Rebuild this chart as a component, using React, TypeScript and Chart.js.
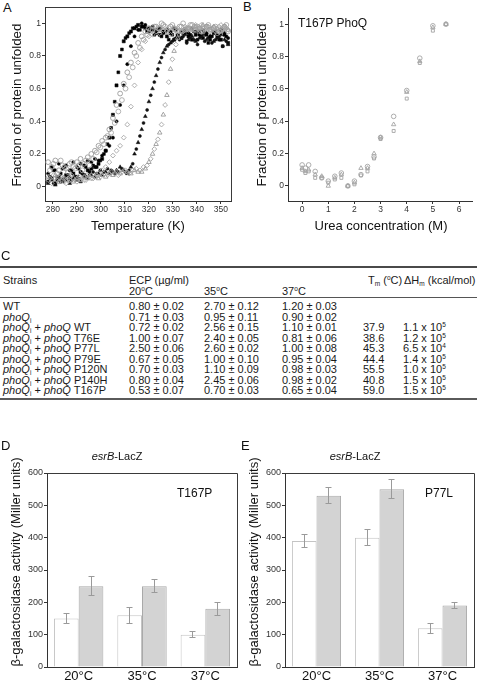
import React, { useEffect, useRef } from "react";
import { Chart, registerables } from "chart.js";
Chart.register(...registerables);

const FONT = "'Liberation Sans', Arial, Helvetica, sans-serif";
Chart.defaults.font.family = FONT;

// ---------- Panel A: thermal unfolding ----------
const tempA = [278, 279.5, 281, 282.5, 284, 285.5, 287, 288.5, 290, 291.5, 293, 294.5, 296, 297.5, 299, 300.5, 302, 303.5, 305, 306.5, 308, 309.5, 311, 312.5, 314, 315.5, 317, 318.5, 320, 321.5, 323, 324.5, 326, 327.5, 329, 330.5, 332, 333.5, 335, 336.5, 338, 339.5, 341, 342.5, 344, 345.5, 347, 348.5, 350, 351.5, 353];
const tempA2 = [278.75, 280.25, 281.75, 283.25, 284.75, 286.25, 287.75, 289.25, 290.75, 292.25, 293.75, 295.25, 296.75, 298.25, 299.75, 301.25, 302.75, 304.25, 305.75, 307.25, 308.75, 310.25, 311.75, 313.25, 314.75, 316.25, 317.75, 319.25, 320.75, 322.25, 323.75, 325.25, 326.75, 328.25, 329.75, 331.25, 332.75, 334.25, 335.75, 337.25, 338.75, 340.25, 341.75, 343.25, 344.75, 346.25, 347.75, 349.25, 350.75, 352.25];
const blackSquaresA = [0.03, 0.05, 0.02, 0.06, 0.04, 0.07, 0.05, 0.08, 0.06, 0.09, 0.07, 0.1, 0.11, 0.12, 0.14, 0.17, 0.22, 0.3, 0.44, 0.62, 0.8, 0.89, 0.92, 0.95, 0.97, 0.99, 0.98, 0.97, 0.95, 0.96, 0.94, 0.93, 0.95, 0.92, 0.94, 0.9, 0.93, 0.91, 0.94, 0.92, 0.9, 0.93, 0.95, 0.91, 0.93, 0.9, 0.94, 0.92, 0.9, 0.93, 0.88];
const blackSquaresA2 = [0.06, 0.1, 0.04, 0.08, 0.12, 0.07, 0.1, 0.06, 0.11, 0.08, 0.12, 0.09, 0.13, 0.12, 0.16, 0.2, 0.26, 0.36, 0.52, 0.7, 0.84, 0.91, 0.94, 0.97, 0.98, 0.96, 0.98, 0.95, 0.97, 0.93, 0.96, 0.92, 0.95, 0.9, 0.93, 0.96, 0.91, 0.94, 0.89, 0.93, 0.95, 0.9, 0.92, 0.94, 0.88, 0.92, 0.95, 0.9, 0.86, 0.92];
const blackDotsA = [0.08, 0.12, 0.1, 0.14, 0.11, 0.13, 0.1, 0.15, 0.12, 0.14, 0.13, 0.16, 0.15, 0.17, 0.16, 0.19, 0.22, 0.25, 0.3, 0.4, 0.5, 0.62, 0.75, 0.86, 0.92, 0.96, 1.0, 0.99, 0.97, 0.98, 0.96, 0.97, 0.94, 0.96, 0.95, 0.97, 0.93, 0.95, 0.96, 0.94, 0.97, 0.95, 0.93, 0.96, 0.94, 0.92, 0.95, 0.93, 0.96, 0.94, 0.91];
const grayCirclesA = [0.15, 0.12, 0.16, 0.1, 0.13, 0.11, 0.14, 0.12, 0.15, 0.17, 0.14, 0.18, 0.2, 0.22, 0.25, 0.28, 0.3, 0.35, 0.42, 0.5, 0.57, 0.63, 0.7, 0.76, 0.82, 0.88, 0.92, 0.95, 0.97, 0.96, 0.98, 0.97, 0.99, 0.96, 0.98, 0.97, 0.95, 0.98, 0.96, 0.97, 0.99, 0.96, 0.97, 0.95, 0.98, 0.96, 0.97, 0.94, 0.96, 0.98, 0.95];
const grayCirclesA2 = [0.1, 0.14, 0.08, 0.16, 0.12, 0.09, 0.15, 0.11, 0.13, 0.1, 0.16, 0.13, 0.17, 0.21, 0.24, 0.26, 0.31, 0.33, 0.39, 0.46, 0.53, 0.6, 0.67, 0.73, 0.8, 0.85, 0.9, 0.93, 0.96, 0.98, 0.97, 1.0, 0.98, 0.97, 0.99, 0.96, 0.98, 1.0, 0.97, 0.99, 0.96, 0.98, 0.95, 0.97, 0.99, 0.96, 0.98, 0.95, 0.97, 0.99];
const grayDiamondsA = [0.04, 0.02, 0.05, 0.03, 0.06, 0.02, 0.04, 0.05, 0.03, 0.06, 0.04, 0.07, 0.05, 0.06, 0.08, 0.1, 0.12, 0.15, 0.19, 0.22, 0.25, 0.3, 0.38, 0.49, 0.62, 0.76, 0.84, 0.89, 0.92, 0.93, 0.95, 0.94, 0.96, 0.95, 0.93, 0.96, 0.97, 0.95, 0.98, 0.96, 0.97, 0.99, 0.96, 0.98, 0.97, 0.95, 0.98, 0.96, 0.99, 0.97, 0.96];
const blackTrianglesA = [0.02, 0.04, 0.01, 0.05, 0.03, 0.04, 0.02, 0.05, 0.04, 0.03, 0.06, 0.05, 0.07, 0.06, 0.08, 0.07, 0.09, 0.08, 0.09, 0.1, 0.12, 0.1, 0.08, 0.12, 0.2, 0.27, 0.35, 0.43, 0.52, 0.6, 0.68, 0.76, 0.82, 0.86, 0.88, 0.9, 0.92, 0.91, 0.93, 0.9, 0.92, 0.89, 0.91, 0.93, 0.9, 0.92, 0.89, 0.91, 0.93, 0.9, 0.87];
const blackTrianglesA2 = [0.04, 0.02, 0.06, 0.03, 0.05, 0.07, 0.04, 0.06, 0.05, 0.08, 0.06, 0.07, 0.09, 0.08, 0.1, 0.09, 0.11, 0.1, 0.08, 0.09, 0.11, 0.09, 0.1, 0.14, 0.23, 0.31, 0.39, 0.47, 0.56, 0.64, 0.72, 0.79, 0.84, 0.87, 0.89, 0.91, 0.9, 0.92, 0.88, 0.91, 0.9, 0.87, 0.92, 0.89, 0.91, 0.88, 0.9, 0.92, 0.86, 0.89];
const grayTrianglesA = [0.06, 0.04, 0.07, 0.03, 0.05, 0.04, 0.06, 0.03, 0.05, 0.04, 0.06, 0.05, 0.07, 0.06, 0.05, 0.07, 0.06, 0.08, 0.07, 0.09, 0.08, 0.1, 0.09, 0.08, 0.1, 0.09, 0.09, 0.11, 0.15, 0.2, 0.26, 0.33, 0.44, 0.56, 0.72, 0.83, 0.91, 0.95, 0.96, 0.97, 0.96, 0.98, 0.97, 0.99, 0.98, 0.96, 0.98, 0.97, 0.95, 0.98, 0.96];
const grayTrianglesA2 = [0.05, 0.07, 0.04, 0.06, 0.03, 0.05, 0.07, 0.04, 0.06, 0.05, 0.04, 0.06, 0.05, 0.07, 0.06, 0.08, 0.07, 0.09, 0.08, 0.07, 0.09, 0.1, 0.08, 0.1, 0.11, 0.1, 0.12, 0.13, 0.17, 0.23, 0.29, 0.38, 0.5, 0.64, 0.78, 0.87, 0.93, 0.95, 0.97, 0.96, 0.98, 0.97, 0.99, 0.96, 0.98, 0.97, 0.95, 0.98, 0.96, 0.97];
const tempTicksA = [280, 290, 300, 310, 320, 330, 340, 350];
const fracTicks = [0, 0.2, 0.4, 0.6, 0.8, 1];

// ---------- Panel B: urea denaturation ----------
const ureaB = [0, 0.125, 0.25, 0.5, 0.75, 1, 1.25, 1.5, 1.75, 2, 2.25, 2.5, 2.75, 3, 3.5, 4, 4.5, 5, 5.5];
const circlesB = [0.13, 0.11, 0.13, 0.09, 0.05, 0.03, 0.06, 0.08, 0.0, 0.03, 0.07, 0.12, 0.18, 0.3, 0.43, 0.59, 0.79, 0.99, 1.0];
const trianglesB = [0.11, 0.09, 0.1, 0.07, 0.06, 0.0, 0.05, 0.07, 0.0, 0.02, 0.11, 0.11, 0.2, 0.3, 0.38, 0.58, 0.77, 0.98, 1.0];
const squaresB = [0.1, 0.08, 0.09, 0.05, 0.05, 0.02, 0.04, 0.05, 0.0, 0.01, 0.065, 0.09, 0.17, 0.29, 0.34, 0.54, 0.76, 0.96, 1.0];
const ureaTicksB = [0, 1, 2, 3, 4, 5, 6];

// ---------- Panel C: table ----------
const strainsC = ["WT", "phoQi", "phoQi + phoQ WT", "phoQi + phoQ T76E", "phoQi + phoQ P77L", "phoQi + phoQ P79E", "phoQi + phoQ P120N", "phoQi + phoQ P140H", "phoQi + phoQ T167P"];
const ecp20C = ["0.80 ± 0.02", "0.71 ± 0.03", "0.72 ± 0.02", "1.00 ± 0.07", "2.50 ± 0.06", "0.67 ± 0.05", "0.70 ± 0.03", "0.80 ± 0.04", "0.53 ± 0.07"];
const ecp35C = ["2.70 ± 0.12", "0.95 ± 0.11", "2.56 ± 0.15", "2.40 ± 0.05", "2.60 ± 0.02", "1.00 ± 0.10", "1.10 ± 0.09", "2.45 ± 0.06", "0.70 ± 0.03"];
const ecp37C = ["1.20 ± 0.03", "0.90 ± 0.02", "1.10 ± 0.01", "0.81 ± 0.06", "1.00 ± 0.08", "0.95 ± 0.04", "0.98 ± 0.03", "0.98 ± 0.02", "0.65 ± 0.04"];
const tmC = ["", "", "37.9", "38.6", "45.3", "44.4", "55.5", "40.8", "59.0"];
const dhMantissaC = ["", "", "1.1", "1.2", "6.5", "1.4", "1.0", "1.5", "1.5"];
const dhExponentC = ["", "", "5", "5", "4", "5", "5", "5", "5"];

// ---------- Panels D/E: esrB-LacZ ----------
const tempCatsDE = ["20°C", "35°C", "37°C"];
const actTicks = [0, 100, 200, 300, 400, 500, 600];
const dWhite = [150, 160, 100];
const dWhiteErr = [15, 25, 10];
const dGray = [250, 250, 180];
const dGrayErr = [30, 20, 20];
const eWhite = [390, 400, 120];
const eWhiteErr = [20, 25, 15];
const eGray = [530, 550, 190];
const eGrayErr = [25, 30, 10];

const align = (p: number) => Math.round(p - 0.5) + 0.5;

const boxPlugin = {
  id: "boxFrame",
  afterDraw(chart: any) {
    const { ctx, chartArea: a } = chart;
    ctx.save();
    ctx.strokeStyle = "#3a3a3a";
    ctx.lineWidth = 1;
    ctx.beginPath();
    ctx.moveTo(align(a.left), align(a.top));
    ctx.lineTo(align(a.right), align(a.top));
    ctx.lineTo(align(a.right), align(a.bottom));
    ctx.stroke();
    ctx.restore();
  },
};

function errorBarPlugin(errs: number[][]) {
  return {
    id: "errBars",
    afterDatasetsDraw(chart: any) {
      const { ctx } = chart;
      const ys = chart.scales.y;
      ctx.save();
      ctx.strokeStyle = "#9a9a9a";
      ctx.lineWidth = 1;
      chart.data.datasets.forEach((ds: any, di: number) => {
        const meta = chart.getDatasetMeta(di);
        meta.data.forEach((bar: any, i: number) => {
          const v = ds.data[i];
          const e = errs[di][i];
          const x = align(bar.x);
          const y1 = align(ys.getPixelForValue(v + e));
          const y2 = align(ys.getPixelForValue(v - e));
          ctx.beginPath();
          ctx.moveTo(x, y1);
          ctx.lineTo(x, y2);
          ctx.moveTo(x - 3, y1);
          ctx.lineTo(x + 3, y1);
          ctx.moveTo(x - 3, y2);
          ctx.lineTo(x + 3, y2);
          ctx.stroke();
        });
      });
      ctx.restore();
    },
  };
}

function axisCommon(color = "#333") {
  return {
    grid: { display: true, drawOnChartArea: false, drawTicks: true, tickLength: 3, color },
    border: { display: true, color, width: 1 },
  };
}

function scatterConfig(opts: any) {
  const { datasets, xMin, xMax, xTicks, yMin, yMax, yTicks, yW, xH, pad, box } = opts;
  return {
    type: "scatter",
    data: { datasets },
    options: {
      responsive: false,
      animation: false,
      events: [],
      layout: { padding: pad },
      plugins: { legend: { display: false }, tooltip: { enabled: false } },
      scales: {
        x: {
          type: "linear",
          min: xMin,
          max: xMax,
          ...axisCommon(),
          afterBuildTicks: (s: any) => { s.ticks = xTicks.map((v: number) => ({ value: v })); },
          afterFit: (s: any) => { s.height = xH; },
          ticks: { color: "#333", font: { size: 8.5 }, padding: 1, maxRotation: 0, autoSkip: false, callback: (v: any) => String(v) },
        },
        y: {
          type: "linear",
          min: yMin,
          max: yMax,
          ...axisCommon(),
          afterBuildTicks: (s: any) => { s.ticks = yTicks.map((v: number) => ({ value: v })); },
          afterFit: (s: any) => { s.width = yW; },
          ticks: { color: "#333", font: { size: 8.5 }, padding: 1, autoSkip: false, callback: (v: any) => String(v) },
        },
      },
    },
    plugins: box ? [boxPlugin] : [],
  };
}

function barConfig(white: number[], gray: number[], wErr: number[], gErr: number[]) {
  return {
    type: "bar",
    data: {
      labels: tempCatsDE,
      datasets: [
        { data: white, backgroundColor: "#ffffff", borderColor: "#c4c4c4", borderWidth: 1, categoryPercentage: 0.78, barPercentage: 1.0 },
        { data: gray, backgroundColor: "#d3d3d3", borderColor: "#a9a9a9", borderWidth: 1, categoryPercentage: 0.78, barPercentage: 1.0 },
      ],
    },
    options: {
      responsive: false,
      animation: false,
      events: [],
      layout: { padding: { top: 33, right: 3, left: 0, bottom: 0 } },
      plugins: { legend: { display: false }, tooltip: { enabled: false } },
      scales: {
        x: {
          grid: { display: false, drawTicks: false },
          border: { display: true, color: "#333", width: 1 },
          afterFit: (s: any) => { s.height = 19; },
          ticks: { color: "#111", font: { size: 13 }, padding: 2, maxRotation: 0 },
        },
        y: {
          min: 0,
          max: 600,
          ...axisCommon(),
          afterBuildTicks: (s: any) => { s.ticks = actTicks.map((v) => ({ value: v })); },
          afterFit: (s: any) => { s.width = 47; },
          ticks: { color: "#333", font: { size: 9 }, padding: 1, autoSkip: false },
        },
      },
    },
    plugins: [boxPlugin, errorBarPlugin([wErr, gErr])],
  };
}

function ChartCanvas({ left, top, width, height, make }: any) {
  const ref = useRef<HTMLCanvasElement>(null);
  useEffect(() => {
    const chart = new Chart(ref.current as HTMLCanvasElement, make());
    return () => chart.destroy();
  }, []);
  return (
    <canvas
      ref={ref}
      width={width}
      height={height}
      style={{ position: "absolute", left, top, width, height }}
    />
  );
}

const openPt = (color: string, style: string, r: number) => ({
  pointStyle: style,
  pointRadius: r,
  backgroundColor: "rgba(255,255,255,0)",
  borderColor: color,
  pointBorderWidth: 0.9,
  showLine: false,
});
const filledPt = (color: string, style: string, r: number) => ({
  pointStyle: style,
  pointRadius: r,
  backgroundColor: color,
  borderColor: color,
  pointBorderWidth: 0.5,
  showLine: false,
});

const xy = (xs: number[], ys: number[]) => xs.map((x, i) => ({ x, y: ys[i] }));

function makeA() {
  return scatterConfig({
    datasets: [
      { data: xy(tempA, grayCirclesA), ...openPt("#9c9c9c", "circle", 2.4) },
      { data: xy(tempA2, grayCirclesA2), ...openPt("#a8a8a8", "circle", 2.4) },
      { data: xy(tempA, grayDiamondsA), ...openPt("#a6a6a6", "rectRot", 2.4) },
      { data: xy(tempA, grayTrianglesA), ...openPt("#9a9a9a", "triangle", 2.6) },
      { data: xy(tempA2, grayTrianglesA2), ...openPt("#a4a4a4", "rectRot", 2.4) },
      { data: xy(tempA, blackDotsA), ...filledPt("#000", "circle", 1.6) },
      { data: xy(tempA, blackTrianglesA), ...filledPt("#111", "triangle", 2.2) },
      { data: xy(tempA2, blackTrianglesA2), ...filledPt("#111", "circle", 1.5) },
      { data: xy(tempA, blackSquaresA), ...filledPt("#000", "rect", 2.2) },
      { data: xy(tempA2, blackSquaresA2), ...filledPt("#000", "rect", 2.0) },
    ],
    xMin: 276.7, xMax: 354.2, xTicks: tempTicksA,
    yMin: -0.088, yMax: 1.1, yTicks: fracTicks,
    yW: 45, xH: 39, pad: { top: 7, right: 9, left: 0, bottom: 0 }, box: true,
  });
}

function makeB() {
  return scatterConfig({
    datasets: [
      { data: xy(ureaB, circlesB), ...openPt("#a4a4a4", "circle", 2.3) },
      { data: xy(ureaB, trianglesB), ...openPt("#a4a4a4", "triangle", 2.5) },
      { data: xy(ureaB, squaresB), ...openPt("#a4a4a4", "rect", 2.1) },
    ],
    xMin: -0.54, xMax: 6.5, xTicks: ureaTicksB,
    yMin: -0.093, yMax: 1.1, yTicks: fracTicks,
    yW: 48, xH: 39, pad: { top: 8, right: 3, left: 0, bottom: 0 }, box: false,
  });
}

const txt = (style: any): any => ({ position: "absolute", whiteSpace: "nowrap", color: "#111", fontFamily: FONT, fontWeight: 400, lineHeight: 1, ...style });

// rotated axis title: an even-sized box centred on integer (cx, cy) so glyphs stay crisp
function VTitle({ cx, cy, size, children }: any) {
  const w = 240, h = 16;
  return (
    <div
      style={txt({
        left: cx - w / 2,
        top: cy - h / 2,
        width: w,
        height: h,
        lineHeight: h + "px",
        textAlign: "center",
        fontSize: size,
        transform: "rotate(-90deg)",
        transformOrigin: "50% 50%",
      })}
    >
      {children}
    </div>
  );
}
function CTitle({ cx, cy, size, children }: any) {
  const w = 200, h = 16;
  return (
    <div style={txt({ left: cx - w / 2, top: cy - h / 2, width: w, height: h, lineHeight: h + "px", textAlign: "center", fontSize: size })}>
      {children}
    </div>
  );
}

const supS = { fontSize: 6.5, verticalAlign: "4px", lineHeight: 0 };
const subS = { fontSize: 6.5, verticalAlign: "-2px", lineHeight: 0 };

function StrainLabel({ s }: { s: string }) {
  if (!s.startsWith("phoQi")) return <span>{s}</span>;
  const rest = s.slice(5);
  const parts = rest.split("phoQ");
  return (
    <span>
      <i>phoQ</i><span style={subS}>i</span>
      {parts.length > 1 ? (
        <>
          {parts[0]}<i>phoQ</i>{parts[1]}
        </>
      ) : rest}
    </span>
  );
}

function TableC() {
  const rowTop = 301;
  const step = 10.5;
  const cell = (left: number, top: number, content: any, key: string) => (
    <div key={key} style={txt({ left, top, fontSize: 11, color: "#1a1a1a" })}>{content}</div>
  );
  return (
    <>
      <div style={{ position: "absolute", left: 0, top: 266, width: 477, height: 2, background: "#4a4a4a" }} />
      {cell(3, 274.5, "Strains", "h1")}
      {cell(129, 274.5, "ECP (µg/ml)", "h2")}
      {cell(129, 285.5, <>20<span style={supS}>o</span>C</>, "h3")}
      {cell(204, 285.5, <>35<span style={supS}>o</span>C</>, "h4")}
      {cell(282, 285.5, <>37<span style={supS}>o</span>C</>, "h5")}
      {cell(368, 274.5, <>T<span style={subS}>m</span> (<span style={supS}>o</span>C)</>, "h6")}
      {cell(404, 274.5, <>ΔH<span style={subS}>m</span> (kcal/mol)</>, "h7")}
      <div style={{ position: "absolute", left: 0, top: 297, width: 477, height: 1, background: "#555" }} />
      {strainsC.map((s, i) => (
        <React.Fragment key={"r" + i}>
          {cell(3, rowTop + i * step, <StrainLabel s={s} />, "s" + i)}
          {cell(129, rowTop + i * step, ecp20C[i], "a" + i)}
          {cell(204, rowTop + i * step, ecp35C[i], "b" + i)}
          {cell(282, rowTop + i * step, ecp37C[i], "c" + i)}
          {cell(363, rowTop + i * step, tmC[i], "d" + i)}
          {cell(403, rowTop + i * step, dhMantissaC[i] ? <>{dhMantissaC[i]} x 10<span style={supS}>{dhExponentC[i]}</span></> : "", "e" + i)}
        </React.Fragment>
      ))}
      <div style={{ position: "absolute", left: 0, top: 398, width: 477, height: 2, background: "#5a5a5a" }} />
    </>
  );
}

export default function App() {
  return (
    <div style={{ position: "fixed", left: 0, top: 0, width: 477, height: 686, background: "#fff", overflow: "hidden", fontFamily: FONT }}>
      {/* Panel A */}
      <div style={txt({ left: 3, top: 1, fontSize: 13 })}>A</div>
      <ChartCanvas left={0} top={0} width={240} height={240} make={makeA} />
      <VTitle cx={17} cy={105} size={13.4}>Fraction of protein unfolded</VTitle>
      <CTitle cx={138} cy={226} size={13}>Temperature (K)</CTitle>

      {/* Panel B */}
      <div style={txt({ left: 243, top: 0, fontSize: 13 })}>B</div>
      <ChartCanvas left={240} top={0} width={237} height={240} make={makeB} />
      <VTitle cx={262} cy={105} size={13.4}>Fraction of protein unfolded</VTitle>
      <CTitle cx={381} cy={226} size={13}>Urea concentration (M)</CTitle>
      <div style={txt({ left: 298, top: 17, fontSize: 12 })}>T167P PhoQ</div>

      {/* Panel C */}
      <div style={txt({ left: 1, top: 249, fontSize: 13 })}>C</div>
      <TableC />

      {/* Panel D */}
      <div style={txt({ left: 1, top: 439, fontSize: 13 })}>D</div>
      <ChartCanvas left={0} top={440} width={240} height={246} make={() => barConfig(dWhite, dGray, dWhiteErr, dGrayErr)} />
      <CTitle cx={117} cy={456} size={11}><i>esrB</i>-LacZ</CTitle>
      <VTitle cx={16} cy={562} size={13}>β-galactosidase activity (Miller units)</VTitle>
      <div style={txt({ left: 177, top: 487, fontSize: 12 })}>T167P</div>

      {/* Panel E */}
      <div style={txt({ left: 241, top: 439, fontSize: 13 })}>E</div>
      <ChartCanvas left={238} top={440} width={239} height={246} make={() => barConfig(eWhite, eGray, eWhiteErr, eGrayErr)} />
      <CTitle cx={355} cy={456} size={11}><i>esrB</i>-LacZ</CTitle>
      <VTitle cx={254} cy={562} size={13}>β-galactosidase activity (Miller units)</VTitle>
      <div style={txt({ left: 425, top: 487, fontSize: 12 })}>P77L</div>
    </div>
  );
}
